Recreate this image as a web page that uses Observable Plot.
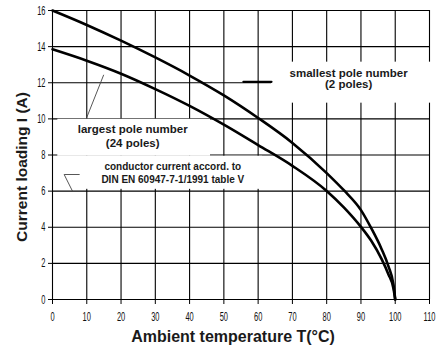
<!DOCTYPE html>
<html><head><meta charset="utf-8">
<script src="https://cdn.jsdelivr.net/npm/d3@7"></script>
<script src="https://cdn.jsdelivr.net/npm/@observablehq/plot@0.6"></script>
<style>
body{margin:0;background:#fff;}
#chart svg{display:block;}
g[aria-label="x-axis tick label"] text, g[aria-label="y-axis tick label"] text{font-family:"Liberation Sans",Arial,sans-serif;font-size:11px;}
</style></head><body><div id="chart"></div>
<script>
// Data
const xTicks = [0,10,20,30,40,50,60,70,80,90,100,110];
const yTicks = [0,2,4,6,8,10,12,14,16];
const temps = [0,10,20,30,40,50,60,70,80,85,90,93,96,98,99.5,100];
const current2poles = [16,15.2,14.33,13.4,12.4,11.3,10.05,8.67,7.0,6.05,4.95,3.95,2.8,1.85,0.8,0];
const current24poles = [13.85,13.22,12.5,11.65,10.72,9.68,8.55,7.4,6.01,5.1,4.02,3.25,2.25,1.4,0.6,0];

// annotation texts and their anchor positions (data units)
const labelTexts = ["smallest pole number","(2 poles)","largest pole number","(24 poles)","conductor current accord. to","DIN EN 60947-7-1/1991 table V"];
const labelX = [86.4,86.4,23.4,23.4,35.1,35.1];
const labelY = [12.53,11.92,9.41,8.64,7.34,6.64];
const labelSize = [11.5,11.5,11.5,11.5,10,10];

// white boxes behind labels
const boxX1 = [63.9,1.55,1.55];
const boxX2 = [110.9,46.1,61.3];
const boxY1 = [10.87,7.93,6.1];
const boxY2 = [13.14,9.98,7.93];

// leader lines
const leaderId = ["s","s","l","l","c","c","c"];
const leaderX = [63.9,55.7,10,14.9,7.8,3.4,5.8];
const leaderY = [12.05,12.05,10.08,12.42,6.92,6.92,6.01];
const leaderThickX = [55.7,63.9];
const leaderThickY = [12.05,12.05];

const series2 = temps.map((t,i)=>({t, v: current2poles[i]}));
const series24 = temps.map((t,i)=>({t, v: current24poles[i]}));
const labels = labelTexts.map((s,i)=>({s, x: labelX[i], y: labelY[i], f: labelSize[i]}));
const boxes = boxX1.map((x1,i)=>({x1, x2: boxX2[i], y1: boxY1[i], y2: boxY2[i]}));
const leaders = leaderId.map((id,i)=>({id, x: leaderX[i], y: leaderY[i]}));
const thick = leaderThickX.map((x,i)=>({x, y: leaderThickY[i]}));

const chart = Plot.plot({
  width: 446, height: 349,
  marginLeft: 52, marginRight: 17, marginTop: 10, marginBottom: 50,
  x: {domain: [0,110]},
  y: {domain: [0,16]},
  style: {fontFamily: "'Liberation Sans', Arial, sans-serif", background: "white", color: "#111"},
  marks: [
    Plot.gridX(xTicks, {stroke: "#000", strokeOpacity: 1, strokeWidth: 1.1}),
    Plot.gridY(yTicks, {stroke: "#000", strokeOpacity: 1, strokeWidth: 1.1}),
    Plot.rect(boxes, {x1: "x1", x2: "x2", y1: "y1", y2: "y2", fill: "white", clip: false}),
    Plot.line(leaders, {x: "x", y: "y", z: "id", stroke: "#444", strokeWidth: 0.9}),
    Plot.line(thick, {x: "x", y: "y", stroke: "#000", strokeWidth: 2.2}),
    Plot.line(series2, {x: "t", y: "v", curve: "monotone-x", stroke: "#000", strokeWidth: 2.6}),
    Plot.line(series24, {x: "t", y: "v", curve: "monotone-x", stroke: "#000", strokeWidth: 2.6}),
    Plot.axisX(xTicks, {tickSize: 5, tickPadding: 8, label: null, stroke: "#000"}),
    Plot.axisY(yTicks, {tickSize: 4, tickPadding: 3, label: null, stroke: "#000"}),
    Plot.text(labels, {x: "x", y: "y", text: "s", fontSize: "f", fontWeight: "bold", fill: "#1a1a1a"}),
    Plot.text(["Ambient temperature T(°C)"], {frameAnchor: "bottom", lineAnchor: "middle", dx: -8, dy: 37, fontSize: 16, fontWeight: "bold", fill: "#1a1a1a"}),
    Plot.text(["Current loading I (A)"], {frameAnchor: "left", textAnchor: "middle", lineAnchor: "middle", rotate: -90, dx: -30, dy: 12, fontSize: 15.5, fontWeight: "bold", fill: "#1a1a1a"})
  ]
});
// condensed look of the tick labels
d3.select(chart).selectAll('g[aria-label="x-axis tick label"] text, g[aria-label="y-axis tick label"] text').each(function(){
  const t = this.getAttribute("transform") || "";
  this.setAttribute("transform", t + " scale(0.68,1.15)");
});
document.getElementById("chart").appendChild(chart);
</script></body></html>
